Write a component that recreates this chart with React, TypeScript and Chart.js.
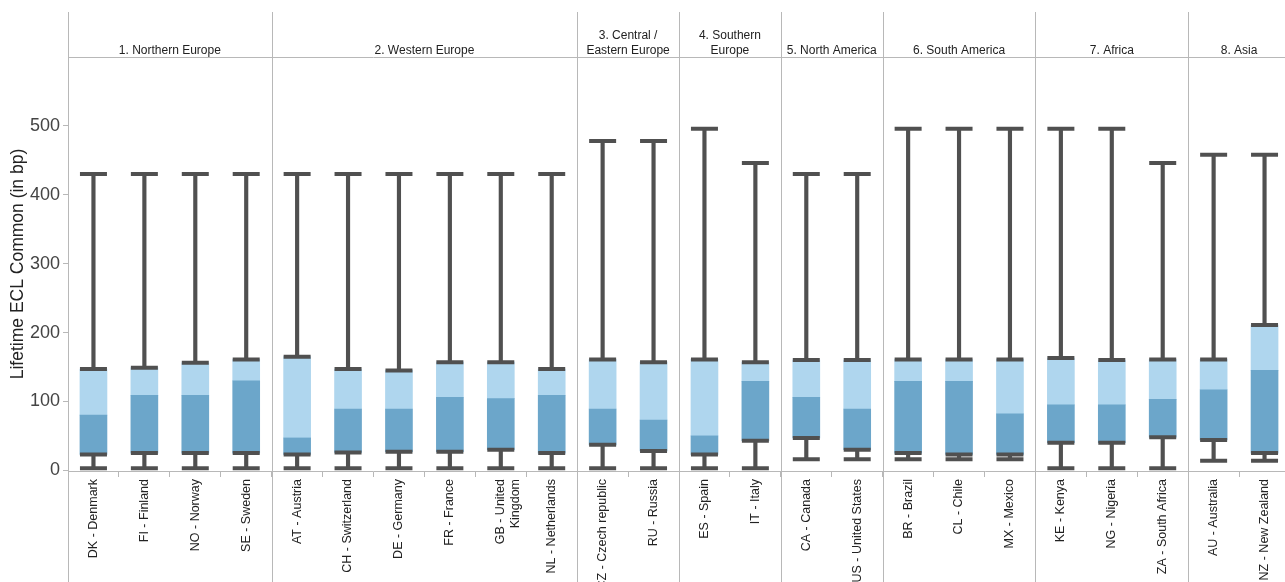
import { useEffect, useRef } from "react";
import { Chart, registerables } from "chart.js";

Chart.register(...registerables);

// Countries along the x axis, ordered by region
const countries: (string | string[])[] = [
  "DK - Denmark", "FI - Finland", "NO - Norway", "SE - Sweden",
  "AT - Austria", "CH - Switzerland", "DE - Germany", "FR - France", ["GB - United", "Kingdom"], "NL - Netherlands",
  "CZ - Czech republic", "RU - Russia",
  "ES - Spain", "IT - Italy",
  "CA - Canada", "US - United States",
  "BR - Brazil", "CL - Chile", "MX - Mexico",
  "KE - Kenya", "NG - Nigeria", "ZA - South Africa",
  "AU - Australia", "NZ - New Zealand",
];

// Region headers and how many countries each spans
const regionNames: string[][] = [
  ["1. Northern Europe"],
  ["2. Western Europe"],
  ["3. Central /", "Eastern Europe"],
  ["4. Southern", "Europe"],
  ["5. North America"],
  ["6. South America"],
  ["7. Africa"],
  ["8. Asia"],
];
const regionSizes = [4, 6, 2, 2, 2, 3, 3, 2];

// Box plot statistics, lifetime ECL in basis points
const minValues = [3, 3, 3, 3, 3, 3, 3, 3, 3, 3, 3, 3, 3, 3, 16, 16, 16, 16, 16, 3, 3, 3, 14, 14];
const q1Values = [23, 25, 25, 25, 23, 26, 27, 27, 30, 25, 37, 28, 23, 43, 47, 30, 25, 23, 23, 40, 40, 48, 44, 25];
const medianValues = [80, 109, 109, 130, 47, 89, 89, 106, 104, 109, 89, 73, 50, 129, 106, 89, 129, 129, 82, 95, 95, 103, 117, 145];
const q3Values = [147, 149, 156, 161, 165, 147, 145, 157, 157, 147, 161, 157, 161, 157, 160, 160, 161, 161, 161, 163, 160, 161, 161, 211];
const maxValues = [430, 430, 430, 430, 430, 430, 430, 430, 430, 430, 478, 478, 496, 446, 430, 430, 496, 496, 496, 496, 496, 446, 458, 458];

const yTickValues = [0, 100, 200, 300, 400, 500];

const FONT = "'Liberation Sans', Arial, sans-serif";
const WHISKER = "#505050";
const BOX_LOW = "#6ca6ca";
const BOX_HIGH = "#afd6ee";
const RULE = "#b8b8b8";
const HEADER_TOP = 12;

// Draws the region header band and the full-height separators between regions
const regionHeaderPlugin = {
  id: "regionHeader",
  afterDraw(chart: any) {
    const { ctx, chartArea, scales } = chart;
    const x = scales.x;
    const step = x.getPixelForValue(1) - x.getPixelForValue(0);
    ctx.save();
    ctx.strokeStyle = RULE;
    ctx.lineWidth = 1;
    ctx.beginPath();
    ctx.moveTo(chartArea.left, Math.round(chartArea.top) + 0.5);
    ctx.lineTo(chart.width, Math.round(chartArea.top) + 0.5);
    ctx.stroke();

    ctx.fillStyle = "#222";
    ctx.font = `12px ${FONT}`;
    ctx.textAlign = "center";
    ctx.textBaseline = "middle";
    let start = 0;
    regionSizes.forEach((n, g) => {
      const left = x.getPixelForValue(start) - step / 2;
      const right = x.getPixelForValue(start + n - 1) + step / 2;
      const px = Math.round(left) + 0.5;
      ctx.beginPath();
      ctx.moveTo(px, HEADER_TOP);
      ctx.lineTo(px, chart.height);
      ctx.stroke();
      const lines = regionNames[g];
      const cx = (left + right) / 2;
      lines.forEach((line, k) => {
        const y = chartArea.top - 6.5 - (lines.length - 1 - k) * 14.5;
        ctx.fillText(line, cx, y);
      });
      start += n;
    });
    ctx.restore();
  },
};

function capDataset(values: number[]) {
  return {
    type: "line" as const,
    data: values,
    showLine: false,
    pointStyle: "line" as const,
    pointRadius: 13.5,
    pointHoverRadius: 13.5,
    pointBorderWidth: 4,
    pointHoverBorderWidth: 4,
    pointBorderColor: WHISKER,
    pointBackgroundColor: WHISKER,
    borderColor: WHISKER,
    order: 0,
  };
}

export default function App() {
  const canvasRef = useRef<HTMLCanvasElement | null>(null);

  useEffect(() => {
    const canvas = canvasRef.current;
    if (!canvas) return;
    const chart = new Chart(canvas, {
      type: "bar",
      data: {
        labels: countries,
        datasets: [
          {
            type: "bar",
            data: minValues.map((m, i) => [m, maxValues[i]]),
            backgroundColor: WHISKER,
            barThickness: 3.5,
            grouped: false,
            order: 3,
          } as any,
          {
            type: "bar",
            data: q1Values.map((q, i) => [q, medianValues[i]]),
            backgroundColor: BOX_LOW,
            barThickness: 27,
            grouped: false,
            order: 2,
          } as any,
          {
            type: "bar",
            data: medianValues.map((m, i) => [m, q3Values[i]]),
            backgroundColor: BOX_HIGH,
            barThickness: 27,
            grouped: false,
            order: 2,
          } as any,
          capDataset(minValues),
          capDataset(q1Values),
          capDataset(q3Values),
          capDataset(maxValues),
        ] as any,
      },
      options: {
        animation: false,
        responsive: false,
        devicePixelRatio: 1,
        events: [],
        layout: { autoPadding: false, padding: { top: 57, left: 0, right: 0, bottom: 0 } },
        plugins: {
          legend: { display: false },
          tooltip: { enabled: false },
        },
        scales: {
          x: {
            type: "category",
            offset: true,
            grid: {
              offset: true,
              drawOnChartArea: false,
              drawTicks: true,
              tickLength: 6,
              color: RULE,
            },
            border: { display: true, color: RULE },
            ticks: {
              autoSkip: false,
              minRotation: 90,
              maxRotation: 90,
              padding: 2,
              color: "#222",
              font: { family: FONT, size: 12.5 },
            },
            afterFit: (scale: any) => {
              scale.height = 111;
              scale.paddingLeft = 0;
              scale.paddingRight = 0;
            },
          },
          y: {
            min: -1,
            max: 600,
            afterBuildTicks: (scale: any) => {
              scale.ticks = yTickValues.map((v) => ({ value: v }));
            },
            afterFit: (scale: any) => {
              scale.width = 68;
            },
            grid: { drawOnChartArea: false, tickLength: 5, color: RULE },
            border: { display: false },
            ticks: {
              padding: 3,
              color: "#444",
              font: { family: FONT, size: 18 },
            },
            title: {
              display: true,
              text: "Lifetime ECL Common (in bp)",
              color: "#222",
              font: { family: FONT, size: 17.5, lineHeight: 1.2 },
              padding: { top: 8, bottom: 0 },
            },
          },
        },
      } as any,
      plugins: [regionHeaderPlugin],
    });
    return () => chart.destroy();
  }, []);

  return (
    <div
      style={{
        position: "fixed",
        left: 0,
        top: 0,
        width: 1285,
        height: 582,
        overflow: "hidden",
        background: "#fff",
      }}
    >
      <canvas ref={canvasRef} width={1290} height={582} style={{ display: "block" }} />
    </div>
  );
}
